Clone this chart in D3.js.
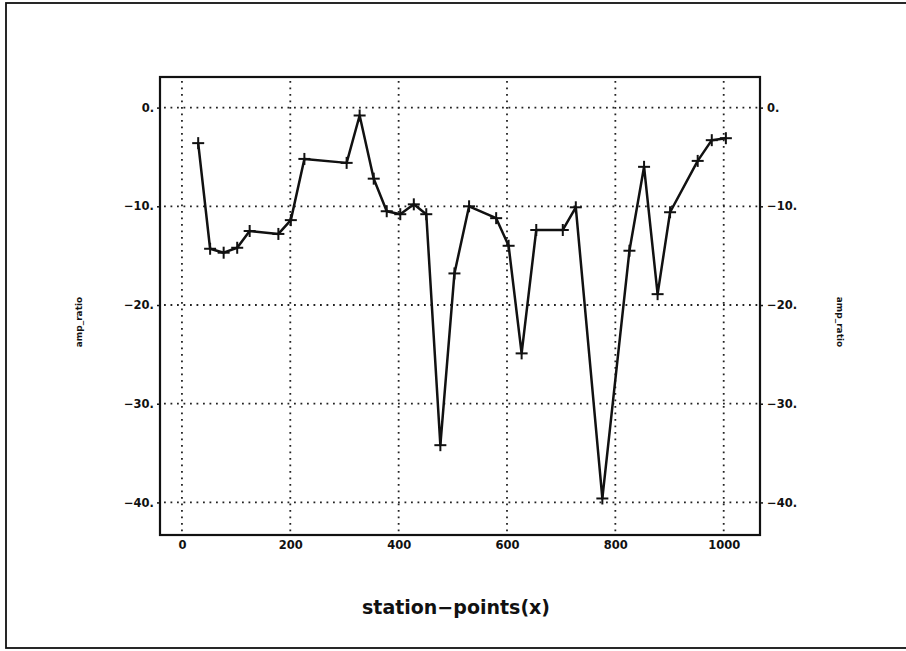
<!DOCTYPE html>
<html>
<head>
<meta charset="utf-8">
<script src="https://cdn.jsdelivr.net/npm/d3@7"></script>
<style>
  html, body { margin: 0; padding: 0; background: #fff; }
  svg { display: block; }
</style>
</head>
<body>
<svg id="chart" width="906" height="651"></svg>
<script>
// ---- data ----
const stationX = [30, 52, 77, 102, 125, 178, 201, 226, 304, 328, 354, 378, 403, 428, 451, 477,
                  503, 530, 580, 603, 627, 654, 703, 727, 776, 826, 853, 878, 901, 952, 978, 1004];
const ampRatio = [-3.6, -14.3, -14.7, -14.2, -12.5, -12.8, -11.4, -5.2, -5.6, -0.8, -7.2, -10.5,
                  -10.8, -9.8, -10.8, -34.2, -16.8, -10.0, -11.2, -14.0, -24.9, -12.4, -12.4, -10.1,
                  -39.6, -14.5, -6.0, -18.9, -10.6, -5.4, -3.3, -3.1];
const xTicks = [0, 200, 400, 600, 800, 1000];
const yTicks = [0, -10, -20, -30, -40];
const xTitle = "station\u2212points(x)";
const yTitle = "amp_ratio";

// ---- layout ----
const svg = d3.select("#chart");
const frame = { left: 160, right: 760, top: 77, bottom: 535 };
const x = d3.scaleLinear().domain([-40.5, 1067]).range([frame.left, frame.right]);
const y = d3.scaleLinear().domain([-43.3, 3.1]).range([frame.bottom, frame.top]);

// outer border
svg.append("rect").attr("x", 6).attr("y", 3).attr("width", 920).attr("height", 645)
  .attr("fill", "none").attr("stroke", "#111").attr("stroke-width", 1.8);

// grid
const g = svg.append("g");
g.selectAll(".vg").data(xTicks).enter().append("line")
  .attr("x1", d => x(d)).attr("x2", d => x(d))
  .attr("y1", frame.top + 4).attr("y2", frame.bottom)
  .attr("stroke", "#222").attr("stroke-width", 1.8).attr("stroke-dasharray", "1.8,4.7");
g.selectAll(".hg").data(yTicks).enter().append("line")
  .attr("y1", d => y(d)).attr("y2", d => y(d))
  .attr("x1", frame.left + 4).attr("x2", frame.right)
  .attr("stroke", "#222").attr("stroke-width", 1.8).attr("stroke-dasharray", "1.8,4.7");

// frame
svg.append("rect").attr("x", frame.left).attr("y", frame.top)
  .attr("width", frame.right - frame.left).attr("height", frame.bottom - frame.top)
  .attr("fill", "none").attr("stroke", "#111").attr("stroke-width", 2.2);

// axes
const fmtY = d => (d === 0 ? "0." : "\u2212" + Math.abs(d) + ".");
const axisStyle = sel => {
  sel.select(".domain").remove();
  sel.selectAll("line").attr("stroke", "#111").attr("stroke-width", 1.5);
  sel.selectAll("text").attr("font-family", "DejaVu Sans, sans-serif")
    .attr("font-weight", "bold").attr("font-size", 11.5).attr("fill", "#111");
};
svg.append("g").attr("transform", `translate(${frame.left},0)`)
  .call(d3.axisLeft(y).tickValues(yTicks).tickFormat(fmtY).tickSizeInner(3).tickSizeOuter(0).tickPadding(3))
  .call(axisStyle);
svg.append("g").attr("transform", `translate(${frame.right},0)`)
  .call(d3.axisRight(y).tickValues(yTicks).tickFormat(fmtY).tickSizeInner(3).tickSizeOuter(0).tickPadding(4))
  .call(axisStyle);
svg.append("g").attr("transform", `translate(0,${frame.bottom})`)
  .call(d3.axisBottom(x).tickValues(xTicks).tickFormat(d3.format("d")).tickSizeInner(0).tickSizeOuter(0).tickPadding(6))
  .call(axisStyle);

// data line
const pts = stationX.map((v, i) => [v, ampRatio[i]]);
svg.append("path").datum(pts)
  .attr("d", d3.line().x(d => x(d[0])).y(d => y(d[1])))
  .attr("fill", "none").attr("stroke", "#111").attr("stroke-width", 2.5).attr("stroke-linejoin", "round");

// plus markers
const m = 6;
const mk = svg.append("g").attr("stroke", "#111").attr("stroke-width", 2);
mk.selectAll(".mh").data(pts).enter().append("line")
  .attr("x1", d => x(d[0]) - m).attr("x2", d => x(d[0]) + m)
  .attr("y1", d => y(d[1])).attr("y2", d => y(d[1]));
mk.selectAll(".mv").data(pts).enter().append("line")
  .attr("x1", d => x(d[0])).attr("x2", d => x(d[0]))
  .attr("y1", d => y(d[1]) - m).attr("y2", d => y(d[1]) + m);

// titles
svg.append("text").attr("x", 456).attr("y", 614).attr("text-anchor", "middle")
  .attr("font-family", "DejaVu Sans, sans-serif").attr("font-weight", "bold")
  .attr("font-size", 19).attr("fill", "#111").text(xTitle);
svg.append("text").attr("transform", "translate(82,322) rotate(-90)").attr("text-anchor", "middle")
  .attr("font-family", "DejaVu Sans, sans-serif").attr("font-weight", "bold")
  .attr("font-size", 9).attr("fill", "#111").text(yTitle);
svg.append("text").attr("transform", "translate(837,322) rotate(90)").attr("text-anchor", "middle")
  .attr("font-family", "DejaVu Sans, sans-serif").attr("font-weight", "bold")
  .attr("font-size", 9).attr("fill", "#111").text(yTitle);
</script>
</body>
</html>
